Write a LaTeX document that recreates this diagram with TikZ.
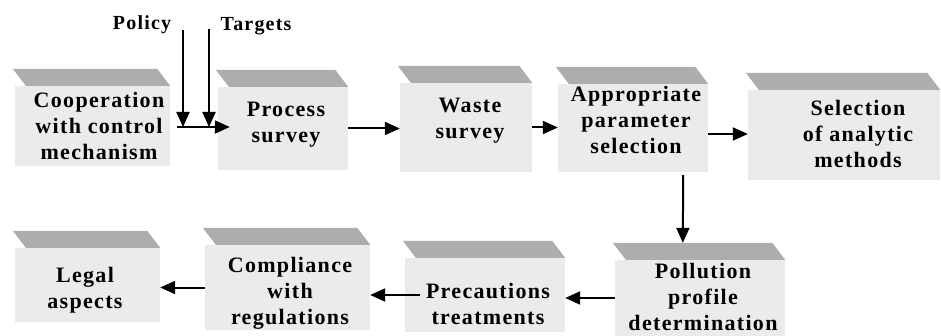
\documentclass[tikz,border=0pt]{standalone}
\usepackage{fontspec}
\setmainfont{Liberation Serif}
\newfontfamily\lblfont[LetterSpace=6]{Liberation Serif}
\usetikzlibrary{arrows.meta,calc}
\tikzset{
  face/.style={fill=black!8, draw=none, inner sep=0pt},
  bandfill/.style={fill=black!32},
  txt/.style={font=\lblfont\bfseries\fontsize{22}{26}\selectfont, align=center, inner sep=0pt},
  lbl/.style={font=\lblfont\bfseries\fontsize{20}{24}\selectfont, inner sep=0pt},
  arr/.style={line width=2pt, -{Triangle[length=15pt,width=13pt]}}
}
\newcommand\bandtop[1]{\fill[bandfill] ($(#1.north west)+(11,0)$) -- (#1.north east) -- ($(#1.north east)+(-13,-17)$) -- ($(#1.north west)+(-2,-17)$) -- cycle;}
\begin{document}
\begin{tikzpicture}[x=1pt,y=-1pt]
\useasboundingbox (0,0) rectangle (941,336);
% faces
\node[face, minimum width=155pt, minimum height=80pt] (coop) at (92.5,126) {};
\node[face, minimum width=130pt, minimum height=83pt] (proc) at (283,128.5) {};
\node[face, minimum width=132pt, minimum height=89pt] (waste) at (466,127.5) {};
\node[face, minimum width=150pt, minimum height=88pt] (approp) at (633,128) {};
\node[face, minimum width=192pt, minimum height=90pt] (sel) at (844,135) {};
\node[face, minimum width=145pt, minimum height=74pt] (legal) at (87.5,285) {};
\node[face, minimum width=165pt, minimum height=85pt] (comp) at (287.5,287.5) {};
\node[face, minimum width=160pt, minimum height=74pt] (prec) at (485,295) {};
\node[face, minimum width=170pt, minimum height=76pt] (poll) at (700,298) {};
% top bands
\bandtop{coop}
\bandtop{proc}
\bandtop{waste}
\bandtop{approp}
\bandtop{sel}
\bandtop{legal}
\bandtop{comp}
\bandtop{prec}
\bandtop{poll}
% texts
\node[txt] (coopt) at (99,126) {Cooperation\\with control\\mechanism};
\node[txt] (proct) at (286,125) {Process\\survey};
\node[txt] (wastet) at (470,121) {Waste\\survey};
\node[txt] (appropt) at (636,120) {Appropriate\\parameter\\selection};
\node[txt] (selt) at (858,134) {Selection\\of analytic\\methods};
\node[txt] (legalt) at (85,290) {Legal\\aspects};
\node[txt] (compt) at (290,293) {Compliance\\with\\regulations};
\node[txt] (prect) at (488,304) {Precautions\\treatments};
\node[txt] (pollt) at (703,297) {Pollution\\profile\\determination};
\node[lbl] (policy) at (142,25) {Policy};
\node[lbl] (targets) at (256,26) {Targets};
% connectors
\coordinate (p0) at (183,30);
\coordinate (t0) at (209,29);
\coordinate (jn) at (177,127);
\draw[arr] (p0) -- (p0 |- jn);
\draw[arr] (t0) -- (t0 |- jn);
\draw[arr] (jn) -- ($(proc.west |- jn)+(12,0)$);
\draw[arr] (proc.east) -- (proc.east -| waste.west);
\draw[arr] (waste.east) -- (waste.east -| approp.west);
\draw[arr] ($(approp.east)+(0,6)$) -- ($(approp.east -| sel.west)+(0,6)$);
\draw[arr] ($(approp.south east)+(-25,3)$) -- ($(poll.north west)+(68,-17)$);
\draw[arr] (poll.west) -- (poll.west -| prec.east);
\draw[arr] ($(prec.west)+(15,0)$) -- (prec.west -| comp.east);
\draw[arr] (comp.west) -- (comp.west -| legal.east);
\end{tikzpicture}
\end{document}
